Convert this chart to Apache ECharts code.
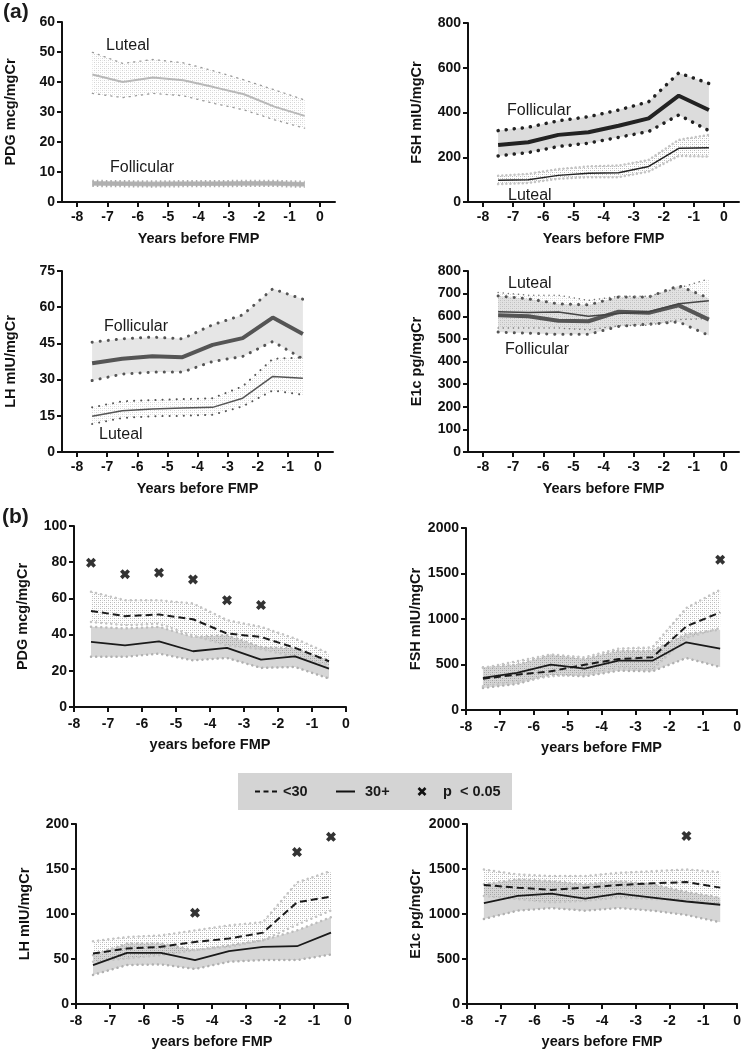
<!DOCTYPE html>
<html><head><meta charset="utf-8">
<script src="https://cdn.jsdelivr.net/npm/echarts@6/dist/echarts.min.js"></script>
<style>html,body{margin:0;padding:0;background:#fff}#c{width:744px;height:1050px}</style>
</head><body><div id="c"></div>
<script>
// ---------- data ----------
const xs = [-7.5, -6.5, -5.5, -4.5, -3.5, -2.5, -1.5, -0.5];
const xTicks = [-8, -7, -6, -5, -4, -3, -2, -1, 0];

// (a) PDG
const pdgLutMean = [42.5, 40.0, 41.5, 40.6, 38.3, 35.9, 31.8, 28.7];
const pdgLutUp   = [49.9, 46.2, 47.5, 46.4, 43.7, 40.7, 37.4, 34.0];
const pdgLutLo   = [36.2, 34.8, 36.2, 35.4, 32.9, 30.7, 27.4, 24.6];
const pdgFolMean = [6.2, 6.1, 6.0, 6.1, 6.1, 6.2, 6.2, 5.9];
const pdgFolUp   = [7.0, 6.9, 6.8, 6.9, 6.9, 7.0, 7.0, 6.7];
const pdgFolLo   = [5.4, 5.3, 5.2, 5.3, 5.3, 5.4, 5.4, 5.1];
// (a) FSH
const fshFolMean = [255, 267, 300, 312, 341, 374, 475, 411];
const fshFolUp   = [319, 334, 363, 381, 411, 448, 577, 530];
const fshFolLo   = [206, 221, 248, 263, 289, 315, 389, 319];
const fshLutMean = [97, 99, 119, 129, 131, 159, 240, 243];
const fshLutUp   = [117, 126, 147, 159, 163, 188, 278, 300];
const fshLutLo   = [80, 85, 104, 111, 111, 136, 206, 203];
// (a) LH
const lhFolMean = [36.8, 38.6, 39.7, 39.3, 44.4, 47.2, 55.7, 48.9];
const lhFolUp   = [45.5, 46.9, 47.6, 46.9, 52.7, 56.8, 67.6, 63.3];
const lhFolLo   = [29.6, 32.3, 33.1, 33.1, 37.5, 39.6, 45.8, 38.6];
const lhLutMean = [14.8, 17.1, 17.8, 18.2, 18.5, 22.3, 31.3, 30.6];
const lhLutUp   = [18.5, 21.0, 21.5, 21.9, 22.3, 27.2, 38.6, 39.2];
const lhLutLo   = [11.6, 14.1, 14.8, 15.0, 15.4, 18.9, 25.5, 23.7];
// (a) E1c
const e1LutMean = [620, 617, 619, 600, 612, 620, 655, 668];
const e1LutUp   = [705, 693, 693, 670, 688, 688, 725, 765];
const e1LutLo   = [548, 548, 548, 540, 558, 560, 585, 590];
const e1FolMean = [604, 600, 580, 578, 620, 615, 648, 585];
const e1FolUp   = [690, 677, 655, 650, 685, 685, 735, 680];
const e1FolLo   = [530, 525, 520, 520, 555, 565, 575, 515];

// (b) PDG
const pdgU30   = [53.1, 50.2, 51.1, 48.5, 40.6, 38.7, 32.7, 25.3];
const pdgU30Up = [63.7, 59.0, 59.0, 57.2, 48.0, 44.3, 37.8, 29.5];
const pdgU30Lo = [47.0, 45.2, 46.0, 39.5, 34.0, 32.0, 27.7, 23.0];
const pdgO30   = [36.0, 34.1, 36.3, 30.8, 32.7, 26.2, 28.0, 21.2];
const pdgO30Up = [44.3, 43.4, 44.3, 38.7, 39.7, 33.2, 32.3, 25.8];
const pdgO30Lo = [27.7, 27.7, 29.5, 25.8, 27.1, 21.6, 22.1, 15.7];
const pdgSigX  = [-7.5, -6.5, -5.5, -4.5, -3.5, -2.5];
const pdgSigY  = [79.7, 73.4, 74.2, 70.5, 59.0, 56.3];
// (b) FSH
const fshU30   = [344, 388, 425, 498, 560, 579, 919, 1073];
const fshU30Up = [462, 535, 610, 579, 674, 689, 1121, 1322];
const fshU30Lo = [260, 315, 370, 396, 462, 443, 791, 901];
const fshO30   = [352, 407, 498, 454, 542, 542, 744, 674];
const fshO30Up = [469, 498, 608, 560, 652, 652, 835, 883];
const fshO30Lo = [242, 286, 388, 370, 432, 425, 571, 472];
const fshSigX  = [-0.5];
const fshSigY  = [1652];
// (b) LH
const lhU30   = [56.1, 61.7, 63.5, 69.0, 72.7, 79.3, 113.0, 119.3];
const lhU30Up = [69.7, 74.5, 76.3, 81.8, 87.3, 91.0, 135.0, 147.9];
const lhU30Lo = [47.0, 50.6, 54.3, 59.8, 63.5, 70.8, 88.0, 103.9];
const lhO30   = [43.3, 56.9, 56.9, 48.8, 58.7, 63.5, 64.2, 79.3];
const lhO30Up = [54.3, 67.2, 67.2, 59.8, 65.3, 70.8, 81.8, 96.5];
const lhO30Lo = [32.3, 43.3, 44.0, 38.9, 47.0, 48.8, 48.8, 55.0];
const lhSigX  = [-4.5, -1.5, -0.5];
const lhSigY  = [101.3, 168.8, 185.7];
// (b) E1c
const e1U30   = [1322, 1293, 1267, 1293, 1322, 1341, 1355, 1293];
const e1U30Up = [1495, 1440, 1421, 1421, 1458, 1476, 1495, 1465];
const e1U30Lo = [1201, 1165, 1128, 1146, 1183, 1165, 1165, 1110];
const e1O30   = [1121, 1201, 1227, 1172, 1227, 1183, 1139, 1103];
const e1O30Up = [1330, 1385, 1366, 1330, 1366, 1330, 1245, 1183];
const e1O30Lo = [945, 1037, 1066, 1037, 1066, 1037, 989, 908];
const e1SigX  = [-1.5];
const e1SigY  = [1868];

// ---------- helpers ----------
const FONT = 'Liberation Sans, Arial, Helvetica, sans-serif';
function pattern(alpha) {
  const c = document.createElement('canvas');
  c.width = 4; c.height = 4;
  const g = c.getContext('2d');
  g.fillStyle = 'rgba(110,110,110,' + alpha + ')';
  g.fillRect(0, 0, 1, 1); g.fillRect(2, 2, 1, 1);
  g.fillStyle = 'rgba(110,110,110,' + (alpha * 0.5) + ')';
  g.fillRect(2, 0, 1, 1); g.fillRect(0, 2, 1, 1);
  return { image: c, repeat: 'repeat' };
}
const pairs = (ys, xv) => (xv || xs).map((x, i) => [x, ys[i]]);
function band(gi, lo, up, fill, z) {
  return {
    type: 'custom', coordinateSystem: 'cartesian2d', xAxisIndex: gi, yAxisIndex: gi, silent: true, z: z,
    data: xs.map((x, i) => [x, lo[i], up[i]]),
    encode: { x: 0, y: [1, 2] },
    renderItem: function (params, api) {
      if (params.dataIndex !== 0) return null;
      const pts = [];
      for (let i = 0; i < xs.length; i++) pts.push(api.coord([xs[i], up[i]]));
      for (let i = xs.length - 1; i >= 0; i--) pts.push(api.coord([xs[i], lo[i]]));
      return { type: 'polygon', shape: { points: pts }, style: { fill: fill, stroke: null } };
    }
  };
}
function line(gi, ys, color, width, type, z, cap) {
  return { type: 'line', xAxisIndex: gi, yAxisIndex: gi, data: pairs(ys), showSymbol: false, silent: true,
    lineStyle: { color: color, width: width, type: type || 'solid', cap: cap || 'butt' }, z: z || 5 };
}
const XPATH = 'path://M0,2.6 L2.6,0 L5,2.4 L7.4,0 L10,2.6 L7.6,5 L10,7.4 L7.4,10 L5,7.6 L2.6,10 L0,7.4 L2.4,5 Z';
function marks(gi, xv, yv) {
  return { type: 'scatter', xAxisIndex: gi, yAxisIndex: gi, data: pairs(yv, xv), symbol: XPATH, symbolSize: 10,
    itemStyle: { color: '#000' }, z: 10, silent: true };
}
const labelStyle = { color: '#111', fontWeight: 'bold', fontSize: 14, fontFamily: FONT };
function xAxis(gi, isA, name) {
  const ax = {
    type: 'value', gridIndex: gi, min: isA ? -8.5 : -8, max: isA ? 0.5 : 0,
    name: name, nameLocation: 'middle', nameGap: isA ? 29 : 30,
    nameTextStyle: { color: '#111', fontWeight: 'bold', fontSize: 14.5, fontFamily: FONT },
    axisLine: { onZero: false, lineStyle: { color: '#111', width: 2 } },
    axisTick: { length: 5, lineStyle: { color: '#111', width: 2 } },
    axisLabel: Object.assign({ margin: isA ? 8 : 10 }, labelStyle),
    splitLine: { show: false }
  };
  if (isA) { ax.axisTick.customValues = xTicks; ax.axisLabel.customValues = xTicks; }
  else { ax.interval = 1; }
  return ax;
}
function yAxis(gi, max, interval, name, gap) {
  return {
    type: 'value', gridIndex: gi, min: 0, max: max, interval: interval,
    name: name, nameLocation: 'middle', nameGap: gap || 44, nameRotate: 90,
    nameTextStyle: { color: '#111', fontWeight: 'bold', fontSize: 14.5, fontFamily: FONT },
    axisLine: { show: true, onZero: false, lineStyle: { color: '#111', width: 2 } },
    axisTick: { show: true, length: 5, lineStyle: { color: '#111', width: 2 } },
    axisLabel: Object.assign({ margin: 7, formatter: v => String(v) }, labelStyle),
    splitLine: { show: false }
  };
}

const grids = [
  { left: 62, top: 22, width: 273, height: 180 },
  { left: 468, top: 23, width: 271, height: 179 },
  { left: 62, top: 271, width: 271, height: 181 },
  { left: 468, top: 271, width: 271, height: 181 },
  { left: 74, top: 526, width: 272, height: 181 },
  { left: 466, top: 528, width: 274, height: 182 },
  { left: 76, top: 824, width: 272, height: 182 },
  { left: 467, top: 824, width: 273, height: 182 }
];

const xAxes = [
  xAxis(0, true, 'Years before FMP'), xAxis(1, true, 'Years before FMP'),
  xAxis(2, true, 'Years before FMP'), xAxis(3, true, 'Years before FMP'),
  xAxis(4, false, 'years before FMP'), xAxis(5, false, 'years before FMP'),
  xAxis(6, false, 'years before FMP'), xAxis(7, false, 'years before FMP')
];
const yAxes = [
  yAxis(0, 60, 10, 'PDG mcg/mgCr'), yAxis(1, 800, 200, 'FSH mIU/mgCr'),
  yAxis(2, 75, 15, 'LH mIU/mgCr'), yAxis(3, 800, 100, 'E1c pg/mgCr'),
  yAxis(4, 100, 20, 'PDG mcg/mgCr'), yAxis(5, 2000, 500, 'FSH mIU/mgCr', 41),
  yAxis(6, 200, 50, 'LH mIU/mgCr'), yAxis(7, 2000, 500, 'E1c pg/mgCr')
];

const light = pattern(0.3);
const lightB = pattern(0.5);
const smallDot = [1.2, 5];
const bigDot = [0.1, 8];
const bDot = [0.1, 5];
const dash = [7, 4];

let series = [];
// G0 PDG (a)
series.push(band(0, pdgLutLo, pdgLutUp, light, 1));
series.push(line(0, pdgLutUp, '#9a9a9a', 1.3, smallDot, 3, 'round'));
series.push(line(0, pdgLutLo, '#9a9a9a', 1.3, smallDot, 3, 'round'));
series.push(line(0, pdgLutMean, '#b8b8b8', 2, 'solid', 4));
series.push(band(0, pdgFolLo, pdgFolUp, '#c8c8c8', 1));
series.push(line(0, pdgFolUp, '#aaaaaa', 2.5, [1.5, 3], 3));
series.push(line(0, pdgFolLo, '#aaaaaa', 2.5, [1.5, 3], 3));
series.push(line(0, pdgFolMean, '#b0b0b0', 3.5, 'solid', 4));
// G1 FSH (a)
series.push(band(1, fshFolLo, fshFolUp, '#dcdcdc', 1));
series.push(line(1, fshFolUp, '#222', 3.5, bigDot, 3, 'round'));
series.push(line(1, fshFolLo, '#222', 3.5, bigDot, 3, 'round'));
series.push(line(1, fshFolMean, '#222', 4, 'solid', 4));
series.push(band(1, fshLutLo, fshLutUp, lightB, 1));
series.push(line(1, fshLutUp, '#c4c4c4', 2.5, [0.1, 4], 3, 'round'));
series.push(line(1, fshLutLo, '#c4c4c4', 2.5, [0.1, 4], 3, 'round'));
series.push(line(1, fshLutMean, '#222', 1.5, 'solid', 4));
// G2 LH (a)
series.push(band(2, lhFolLo, lhFolUp, '#e6e6e6', 1));
series.push(line(2, lhFolUp, '#555', 3, bigDot, 3, 'round'));
series.push(line(2, lhFolLo, '#555', 3, bigDot, 3, 'round'));
series.push(line(2, lhFolMean, '#555', 4, 'solid', 4));
series.push(band(2, lhLutLo, lhLutUp, light, 1));
series.push(line(2, lhLutUp, '#555', 2, [0.1, 7], 3, 'round'));
series.push(line(2, lhLutLo, '#555', 2, [0.1, 7], 3, 'round'));
series.push(line(2, lhLutMean, '#555', 1.5, 'solid', 4));
// G3 E1c (a)
series.push(band(3, e1FolLo, e1FolUp, '#e2e2e2', 1));
series.push(band(3, e1LutLo, e1LutUp, light, 2));
series.push(line(3, e1FolUp, '#555', 3, bigDot, 3, 'round'));
series.push(line(3, e1FolLo, '#555', 3, bigDot, 3, 'round'));
series.push(line(3, e1LutUp, '#777', 1.5, [0.1, 5], 3, 'round'));
series.push(line(3, e1LutLo, '#777', 1.5, [0.1, 5], 3, 'round'));
series.push(line(3, e1FolMean, '#555', 4, 'solid', 4));
series.push(line(3, e1LutMean, '#444', 1.5, 'solid', 5));

// (b) panels
function bPanel(gi, u, uUp, uLo, o, oUp, oLo, sx, sy) {
  series.push(band(gi, oLo, oUp, '#d6d6d6', 1));
  series.push(band(gi, uLo, uUp, lightB, 2));
  series.push(line(gi, oUp, '#bdbdbd', 2.5, bDot, 3, 'round'));
  series.push(line(gi, oLo, '#b0b0b0', 2.5, bDot, 3, 'round'));
  series.push(line(gi, uUp, '#c4c4c4', 2.5, bDot, 3, 'round'));
  series.push(line(gi, uLo, '#c4c4c4', 2.5, bDot, 3, 'round'));
  series.push(line(gi, o, '#1a1a1a', 1.8, 'solid', 5));
  series.push(line(gi, u, '#1a1a1a', 2, dash, 5));
  series.push(marks(gi, sx, sy));
}
bPanel(4, pdgU30, pdgU30Up, pdgU30Lo, pdgO30, pdgO30Up, pdgO30Lo, pdgSigX, pdgSigY);
bPanel(5, fshU30, fshU30Up, fshU30Lo, fshO30, fshO30Up, fshO30Lo, fshSigX, fshSigY);
bPanel(6, lhU30, lhU30Up, lhU30Lo, lhO30, lhO30Up, lhO30Lo, lhSigX, lhSigY);
bPanel(7, e1U30, e1U30Up, e1U30Lo, e1O30, e1O30Up, e1O30Lo, e1SigX, e1SigY);

// ---------- annotations ----------
function txt(x, y, s, font) {
  return { type: 'text', x: x, y: y, silent: true,
    style: { text: s, font: font || ('16px ' + FONT), fill: '#1a1a1a', align: 'left', verticalAlign: 'middle' } };
}
function seg(x1, y1, x2, y2, w, dashArr) {
  return { type: 'line', silent: true, shape: { x1: x1, y1: y1, x2: x2, y2: y2 },
    style: { stroke: '#111', lineWidth: w, lineDash: dashArr || null } };
}
const graphic = [
  txt(3, 12, '(a)', 'bold 21px ' + FONT),
  txt(2, 517, '(b)', 'bold 21px ' + FONT),
  txt(106, 46, 'Luteal'), txt(110, 168, 'Follicular'),
  txt(507, 111, 'Follicular'), txt(508, 196, 'Luteal'),
  txt(104, 327, 'Follicular'), txt(99, 435, 'Luteal'),
  txt(508, 284, 'Luteal'), txt(505, 350, 'Follicular'),
  // legend
  { type: 'rect', shape: { x: 238, y: 773, width: 274, height: 37 }, style: { fill: '#d4d4d4' }, silent: true },
  seg(255, 791.5, 277, 791.5, 2, [5, 3.5]),
  txt(283, 791.5, '<30', 'bold 14.5px ' + FONT),
  seg(336, 791.5, 355, 791.5, 2),
  txt(365, 791.5, '30+', 'bold 14.5px ' + FONT),
  seg(418.5, 788, 425.5, 795, 2.6),
  seg(418.5, 795, 425.5, 788, 2.6),
  txt(443, 791.5, 'p  < 0.05', 'bold 14.5px ' + FONT)
];

const chart = echarts.init(document.getElementById('c'), null, { renderer: 'canvas' });
chart.setOption({
  backgroundColor: '#fff',
  animation: false,
  textStyle: { fontFamily: FONT },
  grid: grids,
  xAxis: xAxes,
  yAxis: yAxes,
  series: series,
  graphic: graphic
});
</script></body></html>
